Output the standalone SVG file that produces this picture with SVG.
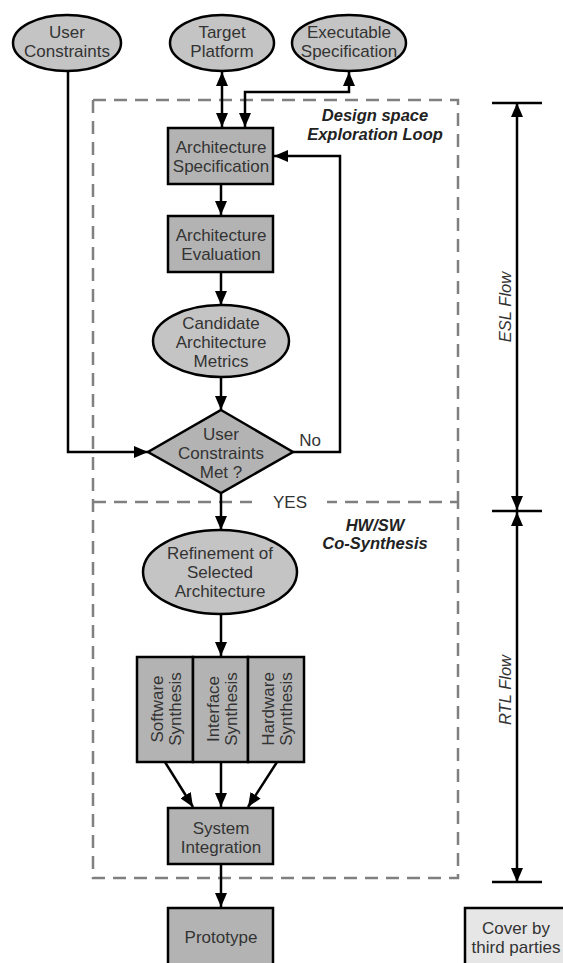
<svg xmlns="http://www.w3.org/2000/svg" width="563" height="963" viewBox="0 0 563 963">
<style>
  .ell{fill:#c4c4c4;stroke:#000;stroke-width:2.5}
  .box{fill:#b3b3b3;stroke:#000;stroke-width:2.5}
  .t{font-family:"Liberation Sans",Arial,sans-serif;font-size:17px;fill:#333;text-anchor:middle;dominant-baseline:central}
  .bi{font-family:"Liberation Sans",Arial,sans-serif;font-size:16.5px;font-weight:bold;font-style:italic;fill:#222;text-anchor:middle;dominant-baseline:central}
  .it{font-family:"Liberation Sans",Arial,sans-serif;font-size:16.5px;font-style:italic;fill:#333;text-anchor:middle;dominant-baseline:central}
  .c{fill:none;stroke:#000;stroke-width:2.5}
  .d{fill:none;stroke:#808080;stroke-width:2.5;stroke-dasharray:13 8}
</style>
<defs>
  <marker id="ah" viewBox="0 0 14 12" refX="14" refY="6" markerWidth="14" markerHeight="12" markerUnits="userSpaceOnUse" orient="auto-start-reverse">
    <path d="M0,0 L14,6 L0,12 Z" fill="#000"/>
  </marker>
</defs>
<rect width="563" height="963" fill="#fff"/>

<g id="regions">
  <path class="d" d="M93,100 H458 V502"/>
  <path class="d" d="M93,100 V878 H458 V502"/>
  <path class="d" d="M93,502 H458"/>
</g>

<g id="connectors">
  <path class="c" d="M68,71 V452 H148" marker-end="url(#ah)"/>
  <path class="c" d="M222,72 V127" marker-start="url(#ah)" marker-end="url(#ah)"/>
  <path class="c" d="M245,127 V92 H349 V72" marker-start="url(#ah)" marker-end="url(#ah)"/>
  <path class="c" d="M221,184 V215" marker-end="url(#ah)"/>
  <path class="c" d="M221,272 V305" marker-end="url(#ah)"/>
  <path class="c" d="M221,377 V410" marker-end="url(#ah)"/>
  <path class="c" d="M293,452 H340 V156 H274" marker-end="url(#ah)"/>
  <path class="c" d="M221,493 V530" marker-end="url(#ah)"/>
  <path class="c" d="M221,614 V656" marker-end="url(#ah)"/>
  <path class="c" d="M165,762 L193,807" marker-end="url(#ah)"/>
  <path class="c" d="M221,762 V807" marker-end="url(#ah)"/>
  <path class="c" d="M277,762 L248,807" marker-end="url(#ah)"/>
  <path class="c" d="M221,864 V907" marker-end="url(#ah)"/>
  <path class="c" d="M517,103 V510" marker-start="url(#ah)" marker-end="url(#ah)"/>
  <path class="c" d="M517,512 V882" marker-start="url(#ah)" marker-end="url(#ah)"/>
  <path class="c" d="M492,103 H542 M492,511 H542 M492,882 H542"/>
</g>

<g id="labels">
  <rect x="252" y="493" width="75" height="19" fill="#fff"/>
  <text class="t" x="290" y="502">YES</text>
  <text class="t" x="310" y="440">No</text>
  <text class="bi" x="375" y="115">Design space</text>
  <text class="bi" x="375" y="134">Exploration Loop</text>
  <text class="bi" x="375" y="525">HW/SW</text>
  <text class="bi" x="375" y="543">Co-Synthesis</text>
  <text class="it" transform="translate(505,307) rotate(-90)">ESL Flow</text>
  <text class="it" transform="translate(505,690) rotate(-90)">RTL Flow</text>
</g>

<g id="user-constraints">
  <ellipse class="ell" cx="67" cy="43" rx="54" ry="28"/>
  <text class="t" x="67" y="32">User</text>
  <text class="t" x="67" y="51">Constraints</text>
</g>
<g id="target-platform">
  <ellipse class="ell" cx="222" cy="43" rx="52" ry="28"/>
  <text class="t" x="222" y="32">Target</text>
  <text class="t" x="222" y="51">Platform</text>
</g>
<g id="executable-specification">
  <ellipse class="ell" cx="349" cy="43" rx="57" ry="28"/>
  <text class="t" x="349" y="32">Executable</text>
  <text class="t" x="349" y="51">Specification</text>
</g>
<g id="architecture-specification">
  <rect class="box" x="168" y="128" width="105" height="56"/>
  <text class="t" x="221" y="147">Architecture</text>
  <text class="t" x="221" y="166">Specification</text>
</g>
<g id="architecture-evaluation">
  <rect class="box" x="168" y="216" width="105" height="56"/>
  <text class="t" x="221" y="235">Architecture</text>
  <text class="t" x="221" y="254">Evaluation</text>
</g>
<g id="candidate-metrics">
  <ellipse class="ell" cx="221" cy="341" rx="68" ry="36"/>
  <text class="t" x="221" y="323">Candidate</text>
  <text class="t" x="221" y="342">Architecture</text>
  <text class="t" x="221" y="361">Metrics</text>
</g>
<g id="constraints-met">
  <polygon class="box" points="221,410 293,452 221,493 148,452"/>
  <text class="t" x="221" y="434">User</text>
  <text class="t" x="221" y="453">Constraints</text>
  <text class="t" x="221" y="472">Met ?</text>
</g>
<g id="refinement">
  <ellipse class="ell" cx="220" cy="572" rx="77" ry="42"/>
  <text class="t" x="220" y="553">Refinement of</text>
  <text class="t" x="220" y="572">Selected</text>
  <text class="t" x="220" y="591">Architecture</text>
</g>
<g id="software-synthesis">
  <rect class="box" x="137" y="657" width="56" height="105"/>
  <text class="t" transform="translate(165,709) rotate(-90)"><tspan x="0" y="-8">Software</tspan><tspan x="0" y="10">Synthesis</tspan></text>
</g>
<g id="interface-synthesis">
  <rect class="box" x="193" y="657" width="55" height="105"/>
  <text class="t" transform="translate(221,709) rotate(-90)"><tspan x="0" y="-8">Interface</tspan><tspan x="0" y="10">Synthesis</tspan></text>
</g>
<g id="hardware-synthesis">
  <rect class="box" x="248" y="657" width="56" height="105"/>
  <text class="t" transform="translate(276,709) rotate(-90)"><tspan x="0" y="-8">Hardware</tspan><tspan x="0" y="10">Synthesis</tspan></text>
</g>
<g id="system-integration">
  <rect class="box" x="168" y="808" width="105" height="56"/>
  <text class="t" x="221" y="828">System</text>
  <text class="t" x="221" y="847">Integration</text>
</g>
<g id="prototype">
  <rect class="box" x="168" y="908" width="105" height="70"/>
  <text class="t" x="221" y="937">Prototype</text>
</g>
<g id="legend-third-parties">
  <rect x="465" y="908" width="110" height="70" fill="#e6e6e6" stroke="#000" stroke-width="2.5"/>
  <text class="t" x="516" y="928">Cover by</text>
  <text class="t" x="516" y="947">third parties</text>
</g>
</svg>
